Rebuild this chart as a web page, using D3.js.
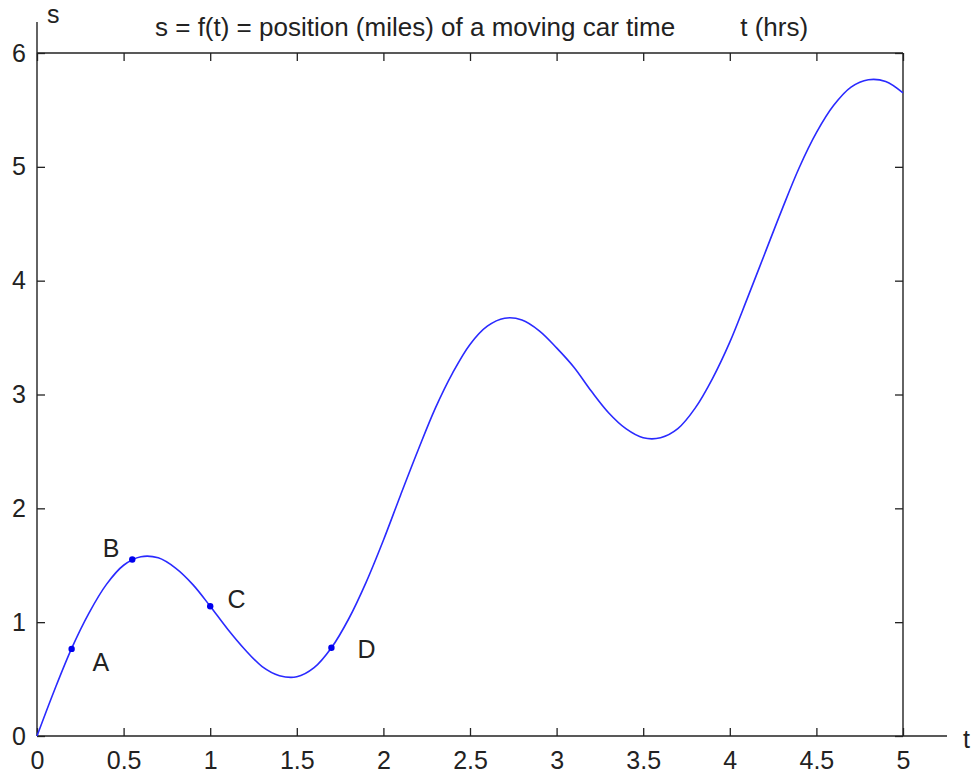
<!DOCTYPE html>
<html>
<head>
<meta charset="utf-8">
<script src="https://cdn.jsdelivr.net/npm/d3@7"></script>
<style>
  body { margin: 0; background: #fff; }
  text { font-family: "Liberation Sans", Arial, sans-serif; fill: #222; }
</style>
</head>
<body>
<div id="chart"></div>
<script>
// s = f(t), every 0.1 hr
const tValues = [0, 0.1, 0.2, 0.3, 0.4, 0.5, 0.6, 0.7, 0.8, 0.9,
  1.0, 1.1, 1.2, 1.3, 1.4, 1.5, 1.6, 1.7, 1.8, 1.9,
  2.0, 2.1, 2.2, 2.3, 2.4, 2.5, 2.6, 2.7, 2.8, 2.9,
  3.0, 3.1, 3.2, 3.3, 3.4, 3.5, 3.6, 3.7, 3.8, 3.9,
  4.0, 4.1, 4.2, 4.3, 4.4, 4.5, 4.6, 4.7, 4.8, 4.9, 5.0];
const sValues = [0, 0.40, 0.77, 1.08, 1.33, 1.50, 1.575, 1.565, 1.475, 1.33,
  1.14, 0.94, 0.76, 0.61, 0.53, 0.52, 0.60, 0.775, 1.03, 1.35,
  1.72, 2.12, 2.51, 2.88, 3.19, 3.44, 3.60, 3.67, 3.655, 3.56,
  3.41, 3.24, 3.03, 2.84, 2.70, 2.62, 2.62, 2.70, 2.88, 3.14,
  3.46, 3.84, 4.23, 4.62, 4.99, 5.30, 5.54, 5.70, 5.765, 5.75, 5.65];

// marked points and where their letters sit (data coords)
const pointNames = ["A", "B", "C", "D"];
const pointT = [0.2, 0.55, 1.0, 1.7];
const pointS = [0.765, 1.55, 1.14, 0.775];
const labelT = [0.32, 0.38, 1.10, 1.85];
const labelS = [0.65, 1.65, 1.20, 0.76];

const xTicks = [0, 0.5, 1, 1.5, 2, 2.5, 3, 3.5, 4, 4.5, 5];
const yTicks = [0, 1, 2, 3, 4, 5, 6];

const title = "s = f(t) = position (miles) of a moving car time         t (hrs)";

const width = 972, height = 774,
    margin = ({ top: 53, right: 69, bottom: 38, left: 37 });

const svg = d3.select("#chart")
    .append("svg")
    .attr("width", width)
    .attr("height", height);

let x = d3.scaleLinear()
    .domain([0, 5])
    .range([margin.left, width - margin.right]);

let y = d3.scaleLinear()
    .domain([0, 6])
    .range([height - margin.bottom, margin.top]);

const fs = 25;

// bottom axis, ticks point inward
svg.append("g")
    .attr("transform", `translate(0,${y(0)})`)
    .call(d3.axisBottom(x).tickValues(xTicks).tickSizeInner(-8).tickSizeOuter(0).tickPadding(15)
        .tickFormat(d3.format("")))
    .call(g => g.select(".domain").remove())
    .call(g => g.selectAll("text").attr("font-size", fs).attr("font-family", null));

svg.append("g")
    .attr("transform", `translate(0,${y(6)})`)
    .call(d3.axisTop(x).tickValues(xTicks).tickSizeInner(-8).tickSizeOuter(0).tickFormat(""))
    .call(g => g.select(".domain").remove());

svg.append("g")
    .attr("transform", `translate(${x(0)},0)`)
    .call(d3.axisLeft(y).tickValues(yTicks).tickSizeInner(-8).tickSizeOuter(0).tickPadding(11)
        .tickFormat(d3.format("d")))
    .call(g => g.select(".domain").remove())
    .call(g => g.selectAll("text").attr("font-size", fs).attr("font-family", null));

svg.append("g")
    .attr("transform", `translate(${x(5)},0)`)
    .call(d3.axisRight(y).tickValues(yTicks).tickSizeInner(-8).tickSizeOuter(0).tickFormat(""))
    .call(g => g.select(".domain").remove());

svg.selectAll(".tick line").attr("stroke", "#222").attr("stroke-width", 1.3);

// frame: left & bottom axes run past the box like the original
const frame = svg.append("g").attr("stroke", "#222").attr("stroke-width", 1.4).attr("fill", "none");
frame.append("line").attr("x1", x(0)).attr("x2", x(0)).attr("y1", 22).attr("y2", y(0));
frame.append("line").attr("x1", x(0)).attr("x2", width - 25).attr("y1", y(0)).attr("y2", y(0));
frame.append("line").attr("x1", x(0)).attr("x2", x(5)).attr("y1", y(6)).attr("y2", y(6));
frame.append("line").attr("x1", x(5)).attr("x2", x(5)).attr("y1", y(6)).attr("y2", y(0));

// axis names
svg.append("text")
    .attr("x", 47).attr("y", 23)
    .attr("font-size", fs)
    .text("s");

svg.append("text")
    .attr("x", 963).attr("y", 748)
    .attr("font-size", fs)
    .text("t");

svg.append("text")
    .attr("x", 155).attr("y", 36)
    .attr("font-size", 26)
    .style("white-space", "pre")
    .text(title);

// the curve
const data = tValues.map((t, i) => ({ t: t, s: sValues[i] }));

let line = d3.line()
    .x(d => x(d.t))
    .y(d => y(d.s))
    .curve(d3.curveCatmullRom);

svg.append("path")
    .datum(data)
    .attr("d", line)
    .attr("fill", "none")
    .attr("stroke", "#2a2aff")
    .attr("stroke-width", 1.6);

// marked points A-D
const pts = pointNames.map((n, i) => ({ n: n, t: pointT[i], s: pointS[i], lt: labelT[i], ls: labelS[i] }));

svg.selectAll("circle.pt")
    .data(pts)
    .join("circle")
    .attr("class", "pt")
    .attr("cx", d => x(d.t))
    .attr("cy", d => y(d.s))
    .attr("r", 3.2)
    .attr("fill", "#0000ee");

svg.selectAll("text.lbl")
    .data(pts)
    .join("text")
    .attr("class", "lbl")
    .attr("x", d => x(d.lt))
    .attr("y", d => y(d.ls))
    .attr("dy", "0.35em")
    .attr("font-size", fs)
    .text(d => d.n);
</script>
</body>
</html>
